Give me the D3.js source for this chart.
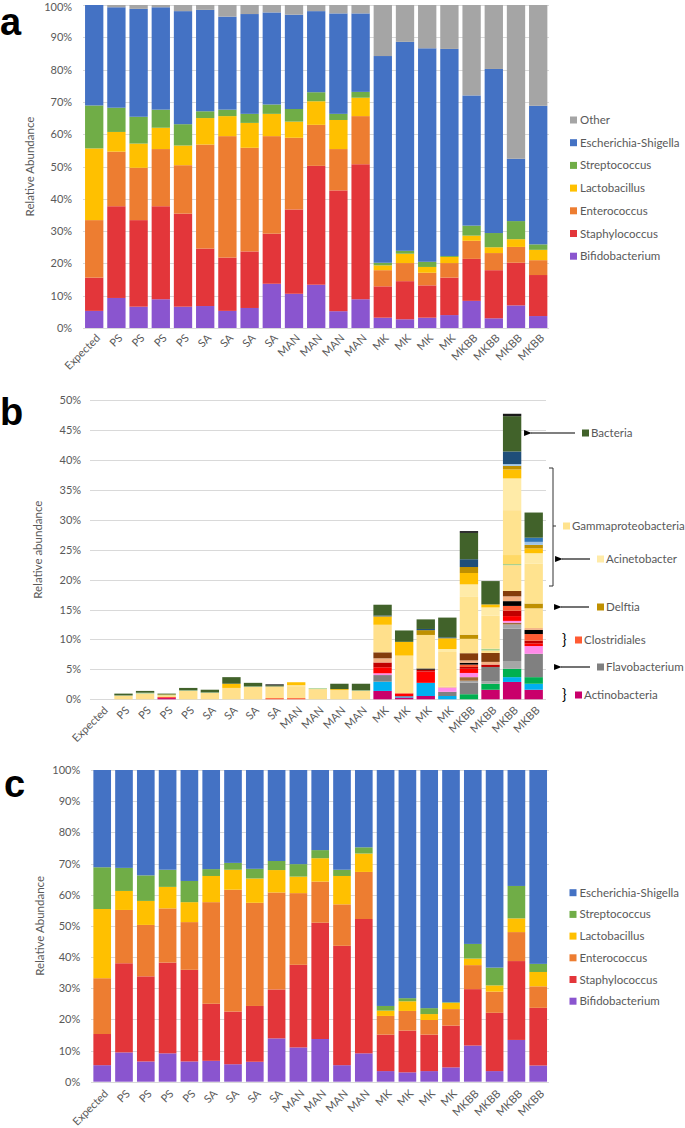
<!DOCTYPE html>
<html><head><meta charset="utf-8">
<script src="https://cdn.jsdelivr.net/npm/d3@7"></script>
<style>
body{margin:0;background:#fff}
svg{display:block}
text{font-family:Lato,"Open Sans",sans-serif}
</style></head>
<body><svg id="chart" width="685" height="1128"></svg>
<script>
// ---------- DATA ----------
const categories = ["Expected","PS","PS","PS","PS","SA","SA","SA","SA","MAN","MAN","MAN","MAN","MK","MK","MK","MK","MKBB","MKBB","MKBB","MKBB"];
const pctTicksA = [0,10,20,30,40,50,60,70,80,90,100];
const pctTicksB = [0,5,10,15,20,25,30,35,40,45,50];

// Panel a (segment sizes, %)
const aBifidobacterium = [5.3,9.3,6.6,8.9,6.6,6.8,5.3,6.2,13.7,10.6,13.4,5.2,8.9,3.2,2.7,3.2,4.0,8.4,3.0,7.0,3.7];
const aStaphylococcus  = [10.3,28.4,26.8,28.8,28.8,17.8,16.5,17.5,15.5,26.1,36.8,37.4,41.8,9.7,11.8,10.0,11.6,13.0,14.9,13.2,12.7];
const aEnterococcus    = [17.8,16.9,16.2,17.7,15.0,32.2,37.6,32.1,30.2,22.2,12.7,12.8,14.9,5.0,5.6,3.9,4.5,5.6,5.3,4.9,4.6];
const aLactobacillus   = [22.2,6.1,7.5,6.6,6.1,8.2,6.2,7.7,6.9,5.0,7.3,9.0,5.7,1.5,2.9,1.8,1.9,1.6,1.8,2.4,3.2];
const aStreptococcus   = [13.3,7.5,8.3,5.6,6.6,2.1,2.0,2.8,2.9,3.9,2.8,1.9,1.8,0.8,0.9,1.6,0.3,3.1,4.4,5.6,1.7];
const aEscherichia     = [31.1,31.1,33.4,31.7,35.0,31.4,28.8,30.9,28.5,29.2,25.1,31.1,24.3,64.0,64.7,66.1,64.1,40.3,50.8,19.3,42.9];
const aOther           = [0,0.7,1.2,0.7,1.9,1.5,3.6,2.8,2.3,3.0,1.9,2.6,2.6,15.8,11.4,13.4,13.6,28.0,19.8,47.6,31.2];

// Panel c (segment sizes, %)
const cBifidobacterium = [5.3,9.4,6.5,9.1,6.5,6.7,5.6,6.4,13.9,11.0,13.7,5.3,9.1,3.4,3.0,3.4,4.6,11.6,3.4,13.4,5.2];
const cStaphylococcus  = [10.0,28.6,27.3,29.1,29.4,18.3,16.9,17.9,15.7,26.5,37.3,38.3,43.1,11.7,13.4,11.7,13.4,18.1,18.7,25.3,18.5];
const cEnterococcus    = [17.9,17.1,16.5,17.4,15.3,32.6,39.1,33.1,31.1,23.0,13.2,13.3,15.1,6.0,6.3,4.7,5.3,7.7,6.8,9.3,6.9];
const cLactobacillus   = [22.2,6.1,7.7,6.9,6.4,8.4,6.4,7.8,7.2,5.3,7.5,9.1,5.9,1.7,3.1,1.9,2.0,2.1,2.0,4.4,4.6];
const cStreptococcus   = [13.4,7.4,8.2,5.5,6.8,2.2,2.2,3.1,2.9,4.0,2.6,2.0,2.0,1.5,1.0,1.9,0.2,4.7,5.7,10.4,2.6];
const cEscherichia     = [31.2,31.4,33.8,32.0,35.6,31.8,29.8,31.7,29.2,30.2,25.7,32.0,24.8,75.7,73.2,76.4,74.5,55.8,63.4,37.2,62.2];

// Panel b (segment sizes, %), bottom to top
const bActinobacteria = [0,0,0,0.2,0,0,0,0,0,0,0,0,0,1.4,0.3,0.55,0,0,1.6,2.9,1.6];
const bLightBlue      = [0,0,0,0,0,0,0,0,0,0,0,0,0,1.55,0.2,2.2,0.55,0,0,0.8,1.0];
const bGreen          = [0,0,0,0,0,0,0,0,0,0,0,0,0,0,0,0,0,0.85,1.0,1.4,1.1];
const bLightGray      = [0,0,0,0,0,0,0,0,0,0,0,0,0,0,0,0,0,0,0.4,1.3,0];
const bFlavobacterium = [0,0,0,0,0,0,0,0,0,0,0,0,0,1.1,0,0,0.7,1.95,2.4,5.4,3.9];
const bLightGray2     = [0,0,0,0,0,0,0,0,0,0,0,0,0,0,0,0,0,0.3,0,0.7,0];
const bTan            = [0,0,0,0,0,0,0,0,0,0,0,0,0,0,0,0,0,0.6,0,0.3,0];
const bPink           = [0,0,0,0,0,0,0,0,0,0,0,0,0,0.3,0,0,0.7,0.7,0,0.3,1.3];
const bRed            = [0,0,0,0.15,0,0,0,0,0,0,0,0,0,1.0,0.5,1.9,0,0.7,0,0.8,0.45];
const bDarkRed        = [0,0,0,0,0,0,0,0,0,0,0,0,0,0.8,0,0.3,0,0.3,0.4,0.9,0.45];
const bClostridiales  = [0,0,0,0,0,0,0,0,0.2,0.2,0,0,0,0,0,0,0,0.4,0,0.8,1.1];
const bBlack          = [0,0,0,0,0,0,0,0,0,0,0,0,0,0,0,0.2,0,0.3,0,0.8,0.7];
const bSalmon         = [0,0,0,0,0,0,0,0,0,0,0,0,0,0.7,0,0,0.15,0.4,0.45,0.8,0.3];
const bBrown          = [0,0,0,0,0,0,0,0,0,0,0,0,0,1.0,0,0,0,1.2,1.5,0.9,0];
const bGammaLow       = [0,0.6,0.95,0.3,1.4,1.05,1.9,2.05,1.95,2.0,1.7,1.55,1.4,4.6,6.3,5.6,5.8,2.4,0.4,4.3,3.3];
const bLightGreen     = [0,0.05,0.15,0.05,0.1,0.1,0,0.1,0,0,0.15,0,0.1,0,0,0,0,0,0.3,0.2,0];
const bDelftia        = [0,0,0,0,0,0,0,0,0,0,0,0,0,0,0,0.8,0,0.7,0,0,0.8];
const bGoldPale       = [0,0,0,0,0,0,0,0,0,0,0,0,0,0,0,0,0,0,0,1.5,0];
const bGammaMid       = [0,0,0,0,0,0,0,0,0,0,0,0,0,0,0,0,0,6.3,5.5,7.5,6.7];
const bAcinetobacter  = [0,0,0,0,0,0,0,0,0,0.15,0,0,0,0,0,0,0.5,2.1,1.4,5.3,1.7];
const bGold           = [0,0,0,0.1,0,0,0.7,0,0,0.5,0,0.15,0,1.4,2.3,0,1.8,1.9,0.5,1.5,0.8];
const bDelftia2       = [0,0,0,0,0,0,0,0,0,0,0,0,0,0,0,0,0,1.0,0,0.6,0.6];
const bLightBlue2     = [0,0,0,0,0,0,0,0,0,0,0,0,0,0,0,0,0,0,0,0.3,0.5];
const bBlue           = [0,0,0,0,0,0,0,0,0,0,0,0,0,0,0,0,0,0,0,0,0.7];
const bNavy           = [0,0,0,0,0,0,0,0,0,0,0,0,0,0.15,0,0.2,0.15,1.3,0,2.1,0];
const bBacteria       = [0,0.3,0.3,0.15,0.4,0.45,1.1,0.6,0.2,0,0,0.9,1.1,1.8,1.9,1.6,3.3,4.4,3.9,5.9,4.2];
const bBlackTop       = [0,0,0,0,0,0,0,0,0.15,0,0,0,0,0,0,0,0,0.3,0,0.4,0];

// ---------- SERIES DEFINITIONS (name, values, colour) ----------
const C = {other:"#A5A5A5", esch:"#4472C4", strep:"#70AD47", lacto:"#FFC000", entero:"#ED7D31", staph:"#E3363A", bifido:"#8A55CF"};
const seriesA = [
  {key:"Bifidobacterium", values:aBifidobacterium, color:C.bifido},
  {key:"Staphylococcus", values:aStaphylococcus, color:C.staph},
  {key:"Enterococcus", values:aEnterococcus, color:C.entero},
  {key:"Lactobacillus", values:aLactobacillus, color:C.lacto},
  {key:"Streptococcus", values:aStreptococcus, color:C.strep},
  {key:"Escherichia-Shigella", values:aEscherichia, color:C.esch},
  {key:"Other", values:aOther, color:C.other}
];
const seriesC = [
  {key:"Bifidobacterium", values:cBifidobacterium, color:C.bifido},
  {key:"Staphylococcus", values:cStaphylococcus, color:C.staph},
  {key:"Enterococcus", values:cEnterococcus, color:C.entero},
  {key:"Lactobacillus", values:cLactobacillus, color:C.lacto},
  {key:"Streptococcus", values:cStreptococcus, color:C.strep},
  {key:"Escherichia-Shigella", values:cEscherichia, color:C.esch}
];
const seriesB = [
  {key:"Actinobacteria", values:bActinobacteria, color:"#C9006B"},
  {key:"LightBlue", values:bLightBlue, color:"#00B0F0"},
  {key:"Green", values:bGreen, color:"#00B050"},
  {key:"LightGray", values:bLightGray, color:"#A6A6A6"},
  {key:"Flavobacterium", values:bFlavobacterium, color:"#808080"},
  {key:"LightGray2", values:bLightGray2, color:"#A6A6A6"},
  {key:"Tan", values:bTan, color:"#9E6A38"},
  {key:"Pink", values:bPink, color:"#FF8AE8"},
  {key:"Red", values:bRed, color:"#FF0000"},
  {key:"DarkRed", values:bDarkRed, color:"#C00000"},
  {key:"Clostridiales", values:bClostridiales, color:"#FF5B33"},
  {key:"Black", values:bBlack, color:"#000000"},
  {key:"Salmon", values:bSalmon, color:"#F4B183"},
  {key:"Brown", values:bBrown, color:"#843C0C"},
  {key:"GammaLow", values:bGammaLow, color:"#FFE08C"},
  {key:"LightGreen", values:bLightGreen, color:"#A9D18E"},
  {key:"Delftia", values:bDelftia, color:"#BF9000"},
  {key:"GoldPale", values:bGoldPale, color:"#FFD966"},
  {key:"GammaMid", values:bGammaMid, color:"#FFE38F"},
  {key:"Acinetobacter", values:bAcinetobacter, color:"#FFEBA8"},
  {key:"Gold", values:bGold, color:"#FFC000"},
  {key:"Delftia2", values:bDelftia2, color:"#BF9000"},
  {key:"LightBlue2", values:bLightBlue2, color:"#9DC3E6"},
  {key:"Blue", values:bBlue, color:"#2E75B6"},
  {key:"Navy", values:bNavy, color:"#1F4E79"},
  {key:"Bacteria", values:bBacteria, color:"#41622A"},
  {key:"BlackTop", values:bBlackTop, color:"#1A1A1A"}
];

// ---------- DRAWING ----------
const svg = d3.select("#chart");
const txt = "#595959";
const grid = "#D9D9D9";

function panel(opt){
  const g = svg.append("g");
  const idx = d3.range(categories.length);
  const x = d3.scaleBand().domain(idx).range([opt.x0, opt.x1]).paddingInner(opt.pad).paddingOuter(opt.pad/2);
  const y = d3.scaleLinear().domain([0, opt.max]).range([opt.yBottom, opt.yTop]);
  // gridlines
  g.append("g").selectAll("line").data(opt.ticks).join("line")
    .attr("x1", opt.gx0).attr("x2", opt.gx1)
    .attr("y1", d=>Math.round(y(d))+0.5).attr("y2", d=>Math.round(y(d))+0.5)
    .attr("stroke", grid).attr("stroke-width", 1);
  // y axis labels
  const ya = d3.axisLeft(y).tickValues(opt.ticks).tickFormat(d=>d+"%").tickSize(0).tickPadding(opt.tickPad);
  const yg = g.append("g").attr("transform", `translate(${opt.x0},0)`).call(ya);
  yg.select(".domain").remove();
  yg.selectAll("text").attr("fill", txt).style("font-size","11px").style("font-family","Lato")
    .attr("dy", d => (y(d) < 10 ? "0.5em" : "0.32em"));
  // stacked bars
  const rows = idx.map(i=>{const r={i}; opt.series.forEach(s=>r[s.key]=s.values[i]); return r;});
  const stack = d3.stack().keys(opt.series.map(s=>s.key))(rows);
  const colorOf = new Map(opt.series.map(s=>[s.key, s.color]));
  g.append("g").selectAll("g").data(stack).join("g").attr("fill", d=>colorOf.get(d.key))
    .selectAll("rect").data(d=>d.filter(p=>p[1]-p[0]>0)).join("rect")
    .attr("x", p=>x(p.data.i)).attr("width", x.bandwidth())
    .attr("y", p=>y(p[1])).attr("height", p=>y(p[0])-y(p[1]));
  // x axis labels
  const xa = d3.axisBottom(x).tickFormat(i=>categories[i]).tickSize(0).tickPadding(0);
  const xg = g.append("g").attr("transform", `translate(0,${opt.yBottom})`).call(xa);
  xg.select(".domain").remove();
  xg.selectAll("text").attr("fill", txt).style("font-size","11px").style("font-family","Lato")
    .attr("text-anchor","end").attr("dy","0.35em")
    .attr("transform", `translate(4,${opt.xLabOff}) rotate(-45)`).attr("y",0).attr("x",0);
  // y title
  g.append("text").attr("transform", `translate(${opt.titleX},${(opt.yTop+opt.yBottom)/2}) rotate(-90)`)
    .attr("text-anchor","middle").attr("fill", txt).style("font-size","11.5px").text(opt.title);
  // panel letter
  g.append("text").attr("x", opt.letterX).attr("y", opt.letterY).text(opt.letter)
    .style("font-family","Liberation Sans, Arial, sans-serif").style("font-weight","bold").style("font-size","38px").attr("fill","#000");
  return {x, y, g};
}

function legend(series, x, y0, step){
  const g = svg.append("g");
  series.forEach((s,k)=>{
    const yy = y0 + k*step;
    g.append("rect").attr("x", x).attr("y", yy-3.5).attr("width",7).attr("height",7).attr("fill", s.color);
    g.append("text").attr("x", x+10).attr("y", yy).attr("dy","0.35em").attr("fill", txt)
      .style("font-size","11.5px").text(s.key);
  });
}

// Panel a
panel({series:seriesA, x0:83.1, x1:549.3, pad:0.175, yBottom:328, yTop:5, max:100, ticks:pctTicksA,
  gx0:83, gx1:549, tickPad:11, xLabOff:8, title:"Relative Abundance", titleX:34, letter:"a", letterX:0, letterY:35});
legend(seriesA.slice().reverse(), 570, 120, 22.7);

// Panel b
panel({series:seriesB, x0:91.1, x1:544.5, pad:0.15, yBottom:699.3, yTop:400, max:50, ticks:pctTicksB,
  gx0:90, gx1:546, tickPad:10, xLabOff:9, title:"Relative abundance", titleX:42, letter:"b", letterX:0, letterY:425});

// Panel c
panel({series:seriesC, x0:91.3, x1:549.1, pad:0.19, yBottom:1081.7, yTop:770, max:100, ticks:pctTicksA,
  gx0:91, gx1:549, tickPad:11, xLabOff:10, title:"Relative Abundance", titleX:44, letter:"c", letterX:4, letterY:797});
legend(seriesC.slice().reverse(), 569.5, 892.7, 21.7);

// Panel b annotations
const defs = svg.append("defs");
defs.append("marker").attr("id","arr").attr("viewBox","0 0 10 10").attr("refX",1).attr("refY",5)
  .attr("markerWidth",7).attr("markerHeight",7).attr("orient","auto-start-reverse")
  .append("path").attr("d","M10,1 L0,5 L10,9 Z").attr("fill","#000");
const ann = svg.append("g");
function arrow(x1, x2, yy){
  ann.append("line").attr("x1",x1).attr("x2",x2).attr("y1",yy).attr("y2",yy)
    .attr("stroke","#000").attr("stroke-width",1.1).attr("marker-start","url(#arr)");
}
function label(x, yy, color, t){
  ann.append("rect").attr("x",x).attr("y",yy-3.5).attr("width",7).attr("height",7).attr("fill",color);
  ann.append("text").attr("x",x+9).attr("y",yy).attr("dy","0.35em").attr("fill",txt).style("font-size","11.5px").text(t);
}
arrow(531, 575, 433); label(582, 433, "#41622A", "Bacteria");
// bracket
ann.append("path").attr("d","M549,468 L553,468 L553,586 L549,586").attr("fill","none").attr("stroke","#333").attr("stroke-width",1);
ann.append("line").attr("x1",553).attr("x2",556).attr("y1",526).attr("y2",526).attr("stroke","#333");
label(563, 526, "#FFE38F", "Gammaproteobacteria");
arrow(562, 590, 559); label(597, 559, "#FFEBA8", "Acinetobacter");
arrow(561, 589, 607); label(597, 607, "#BF9000", "Delftia");
ann.append("text").attr("x",562).attr("y",640).attr("dy","0.35em").style("font-size","15px").attr("fill","#000").text("}");
label(575, 640, "#FF5B33", "Clostridiales");
arrow(561, 590, 667); label(597, 667, "#808080", "Flavobacterium");
ann.append("text").attr("x",562).attr("y",695).attr("dy","0.35em").style("font-size","15px").attr("fill","#000").text("}");
label(575, 695, "#C9006B", "Actinobacteria");
</script>
</body></html>
